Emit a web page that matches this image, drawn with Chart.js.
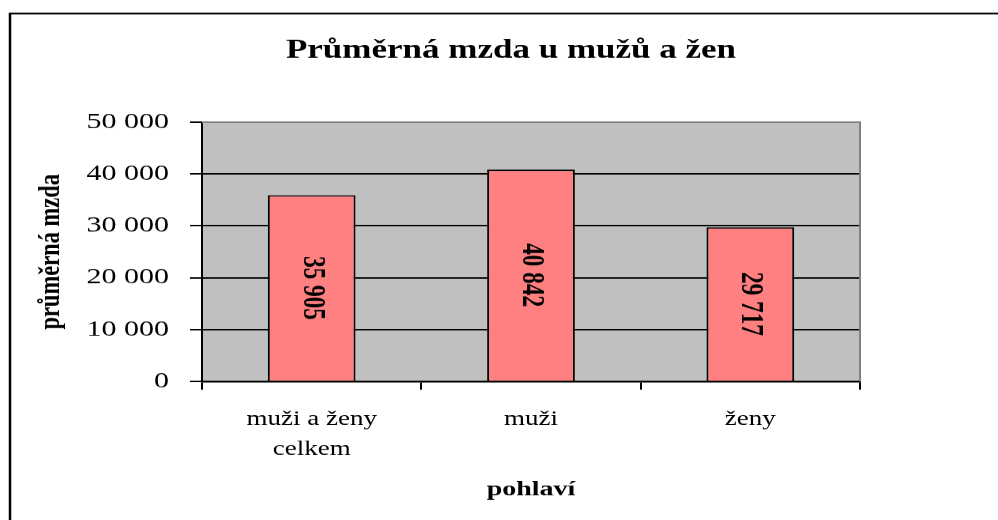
<!DOCTYPE html>
<html>
<head>
<meta charset="utf-8">
<title>Průměrná mzda u mužů a žen</title>
<script src="https://cdn.jsdelivr.net/npm/chart.js@4.4.0/dist/chart.umd.min.js"></script>
<style>
  html, body { margin: 0; padding: 0; background: #fff; overflow: hidden; }
</style>
</head>
<body>
<!-- the original picture is squashed vertically, so the canvas is drawn taller and scaled down -->
<canvas id="mycanvas" width="998" height="694" style="display:block;width:998px;height:520px"></canvas>
<script>
var kategorie = [['muži a ženy', 'celkem'], 'muži', 'ženy'];
var mzdy = [35905, 40842, 29717];
var osaY = [0, 10000, 20000, 30000, 40000, 50000];

function fmt(v) {
  return String(v).replace(/\B(?=(\d{3})+(?!\d))/g, ' ');
}

Chart.defaults.font.family = '"Liberation Serif", "Times New Roman", serif';
Chart.defaults.color = '#000';

// white page, outer frame and grey plot area
var pozadi = {
  id: 'pozadi',
  beforeDraw: function(chart) {
    var ctx = chart.ctx, a = chart.chartArea;
    ctx.save();
    ctx.fillStyle = '#fff';
    ctx.fillRect(0, 0, chart.width, chart.height);
    ctx.strokeStyle = '#000';
    ctx.lineWidth = 2.5;
    ctx.strokeRect(10, 18, chart.width + 40, chart.height + 40);
    ctx.fillStyle = '#c0c0c0';
    ctx.fillRect(a.left, a.top, a.right - a.left, a.bottom - a.top);
    ctx.restore();
  },
  beforeDatasetsDraw: function(chart) {
    var ctx = chart.ctx, a = chart.chartArea;
    ctx.save();
    ctx.strokeStyle = '#808080';
    ctx.lineWidth = 2;
    ctx.beginPath();
    ctx.moveTo(a.left, a.top);
    ctx.lineTo(a.right, a.top);
    ctx.lineTo(a.right, a.bottom);
    ctx.stroke();
    ctx.restore();
  }
};

// rotated values inside the bars
var popisky = {
  id: 'popisky',
  afterDatasetsDraw: function(chart) {
    var ctx = chart.ctx;
    var meta = chart.getDatasetMeta(0);
    ctx.save();
    ctx.font = 'bold 31px "Liberation Serif"';
    ctx.fillStyle = '#000';
    ctx.textAlign = 'center';
    ctx.textBaseline = 'middle';
    meta.data.forEach(function(bar, i) {
      ctx.save();
      ctx.translate(bar.x, (bar.y + bar.base) / 2);
      ctx.rotate(Math.PI / 2);
      ctx.fillText(fmt(mzdy[i]), 0, 0);
      ctx.restore();
    });
    ctx.restore();
  }
};

var ctx = document.getElementById('mycanvas');

var barGraph = new Chart(ctx, {
  type: 'bar',
  data: {
    labels: kategorie,
    datasets: [{
      label: 'průměrná mzda',
      data: mzdy,
      backgroundColor: '#ff8080',
      borderColor: '#000',
      borderWidth: 2,
      barPercentage: 0.4,
      categoryPercentage: 1.0
    }]
  },
  options: {
    responsive: false,
    animation: false,
    devicePixelRatio: 1,
    layout: { padding: { left: 24, right: 0, top: 0, bottom: 0 } },
    plugins: {
      legend: { display: false },
      tooltip: { enabled: false },
      title: {
        display: true,
        text: 'Průměrná mzda u mužů a žen',
        color: '#000',
        font: { size: 35, weight: 'bold' },
        padding: { top: 47, bottom: 74 }
      }
    },
    scales: {
      x: {
        grid: { drawOnChartArea: false, drawTicks: true, tickLength: 11, color: '#000', lineWidth: 2 },
        border: { color: '#000', width: 2.5 },
        ticks: { color: '#000', font: { size: 27, lineHeight: 1.48 }, padding: 20, maxRotation: 0, autoSkip: false },
        title: {
          display: true,
          text: 'pohlaví',
          color: '#000',
          font: { size: 28, weight: 'bold' },
          padding: { top: 0, bottom: 23 }
        },
        afterFit: function(s) { s.height = 185; }
      },
      y: {
        min: osaY[0],
        max: osaY[osaY.length - 1],
        ticks: {
          stepSize: osaY[1] - osaY[0],
          color: '#000',
          font: { size: 30 },
          padding: 21,
          callback: function(v) { return fmt(v); }
        },
        grid: {
          color: function(c) { return c.tick && c.tick.value === osaY[osaY.length - 1] ? '#808080' : '#000'; },
          tickColor: '#000',
          lineWidth: 2,
          tickLength: 12
        },
        border: { color: '#000', width: 2 },
        title: {
          display: true,
          text: 'průměrná mzda',
          color: '#000',
          font: { size: 30, weight: 'bold' },
          padding: { top: 9, bottom: 0 }
        },
        afterFit: function(s) { s.width = 178; }
      },
      vypln: {
        type: 'linear',
        position: 'right',
        display: true,
        grid: { display: false },
        border: { display: false },
        ticks: { display: false },
        afterFit: function(s) { s.width = 138; }
      }
    }
  },
  plugins: [pozadi, popisky]
});
</script>
</body>
</html>
